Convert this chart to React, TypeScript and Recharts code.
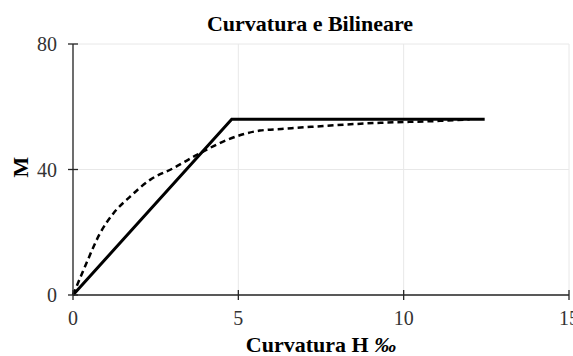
import React from "react";
import {
  LineChart,
  Line,
  XAxis,
  YAxis,
  CartesianGrid,
} from "recharts";

// bilinear (solid)
const bilinearH = [0, 4.8, 12.45];
const bilinearM = [0, 56, 56];

// moment-curvature (dashed)
const curveH = [0, 0.36, 0.82, 1.22, 1.72, 2.33, 3.03, 3.84, 4.65, 5.65, 6.3, 7.2, 9.3, 11.1, 12];
const curveM = [0, 9, 19.7, 26, 31.3, 36.7, 40.4, 45.2, 49.4, 52.4, 52.9, 53.6, 54.9, 55.5, 56];

const xTicks = [0, 5, 10, 15];
const yTicks = [0, 40, 80];

const bilinearData = bilinearH.map((h, i) => ({ h, m: bilinearM[i] }));
const curveData = curveH.map((h, i) => ({ h, m: curveM[i] }));

const FONT = "'Liberation Serif', 'Times New Roman', serif";
const AXIS = "#262626";

const XTick = (props: any) => {
  const { x, y, payload } = props;
  return (
    <g>
      <line x1={x} y1={y - 5} x2={x} y2={y + 5} stroke={AXIS} strokeWidth={1.3} />
      <text x={x} y={y + 30} textAnchor="middle" fontFamily={FONT} fontSize={20} fill="#333">
        {payload.value}
      </text>
    </g>
  );
};

const YTick = (props: any) => {
  const { x, y, payload } = props;
  return (
    <g>
      <line x1={x - 5} y1={y} x2={x + 5} y2={y} stroke={AXIS} strokeWidth={1.3} />
      <text x={x - 16} y={y} dy="0.35em" textAnchor="end" fontFamily={FONT} fontSize={20} fill="#333">
        {payload.value}
      </text>
    </g>
  );
};

export default function App() {
  return (
    <div style={{ position: "absolute", left: 0, top: 0, width: 573, height: 356, background: "#fff" }}>
      <LineChart
        width={573}
        height={356}
        margin={{ top: 44, right: 4, left: 13, bottom: 31 }}
      >
        <CartesianGrid stroke="#e8e8e8" strokeWidth={1} />
        <XAxis
          type="number"
          dataKey="h"
          domain={[0, 15]}
          ticks={xTicks}
          height={30}
          tickSize={0}
          tickMargin={0}
          tickLine={false}
          stroke={AXIS}
          strokeWidth={1.3}
          tick={<XTick />}
          interval={0}
        />
        <YAxis
          type="number"
          dataKey="m"
          domain={[0, 80]}
          ticks={yTicks}
          width={60}
          tickSize={0}
          tickMargin={0}
          tickLine={false}
          stroke={AXIS}
          strokeWidth={1.3}
          tick={<YTick />}
          interval={0}
        />
        <Line
          data={curveData}
          dataKey="m"
          type="monotone"
          stroke="#000"
          strokeWidth={2.5}
          strokeDasharray="6 4"
          dot={false}
          isAnimationActive={false}
        />
        <Line
          data={bilinearData}
          dataKey="m"
          type="linear"
          stroke="#000"
          strokeWidth={3}
          dot={false}
          isAnimationActive={false}
        />
      </LineChart>
      <svg
        width={573}
        height={356}
        style={{ position: "absolute", left: 0, top: 0, pointerEvents: "none" }}
      >
        <text x={310} y={31} textAnchor="middle" fontFamily={FONT} fontSize={22} fontWeight="bold" fill="#000">
          Curvatura e Bilineare
        </text>
        <text x={321} y={352} textAnchor="middle" fontFamily={FONT} fontSize={22} fontWeight="bold" fill="#000">
          Curvatura H <tspan fontStyle="italic">‰</tspan>
        </text>
        <text
          x={20}
          y={167}
          dy="0.35em"
          textAnchor="middle"
          fontFamily={FONT}
          fontSize={22}
          fontWeight="bold"
          fill="#000"
          transform="rotate(-90, 20, 167)"
        >
          M
        </text>
      </svg>
    </div>
  );
}
